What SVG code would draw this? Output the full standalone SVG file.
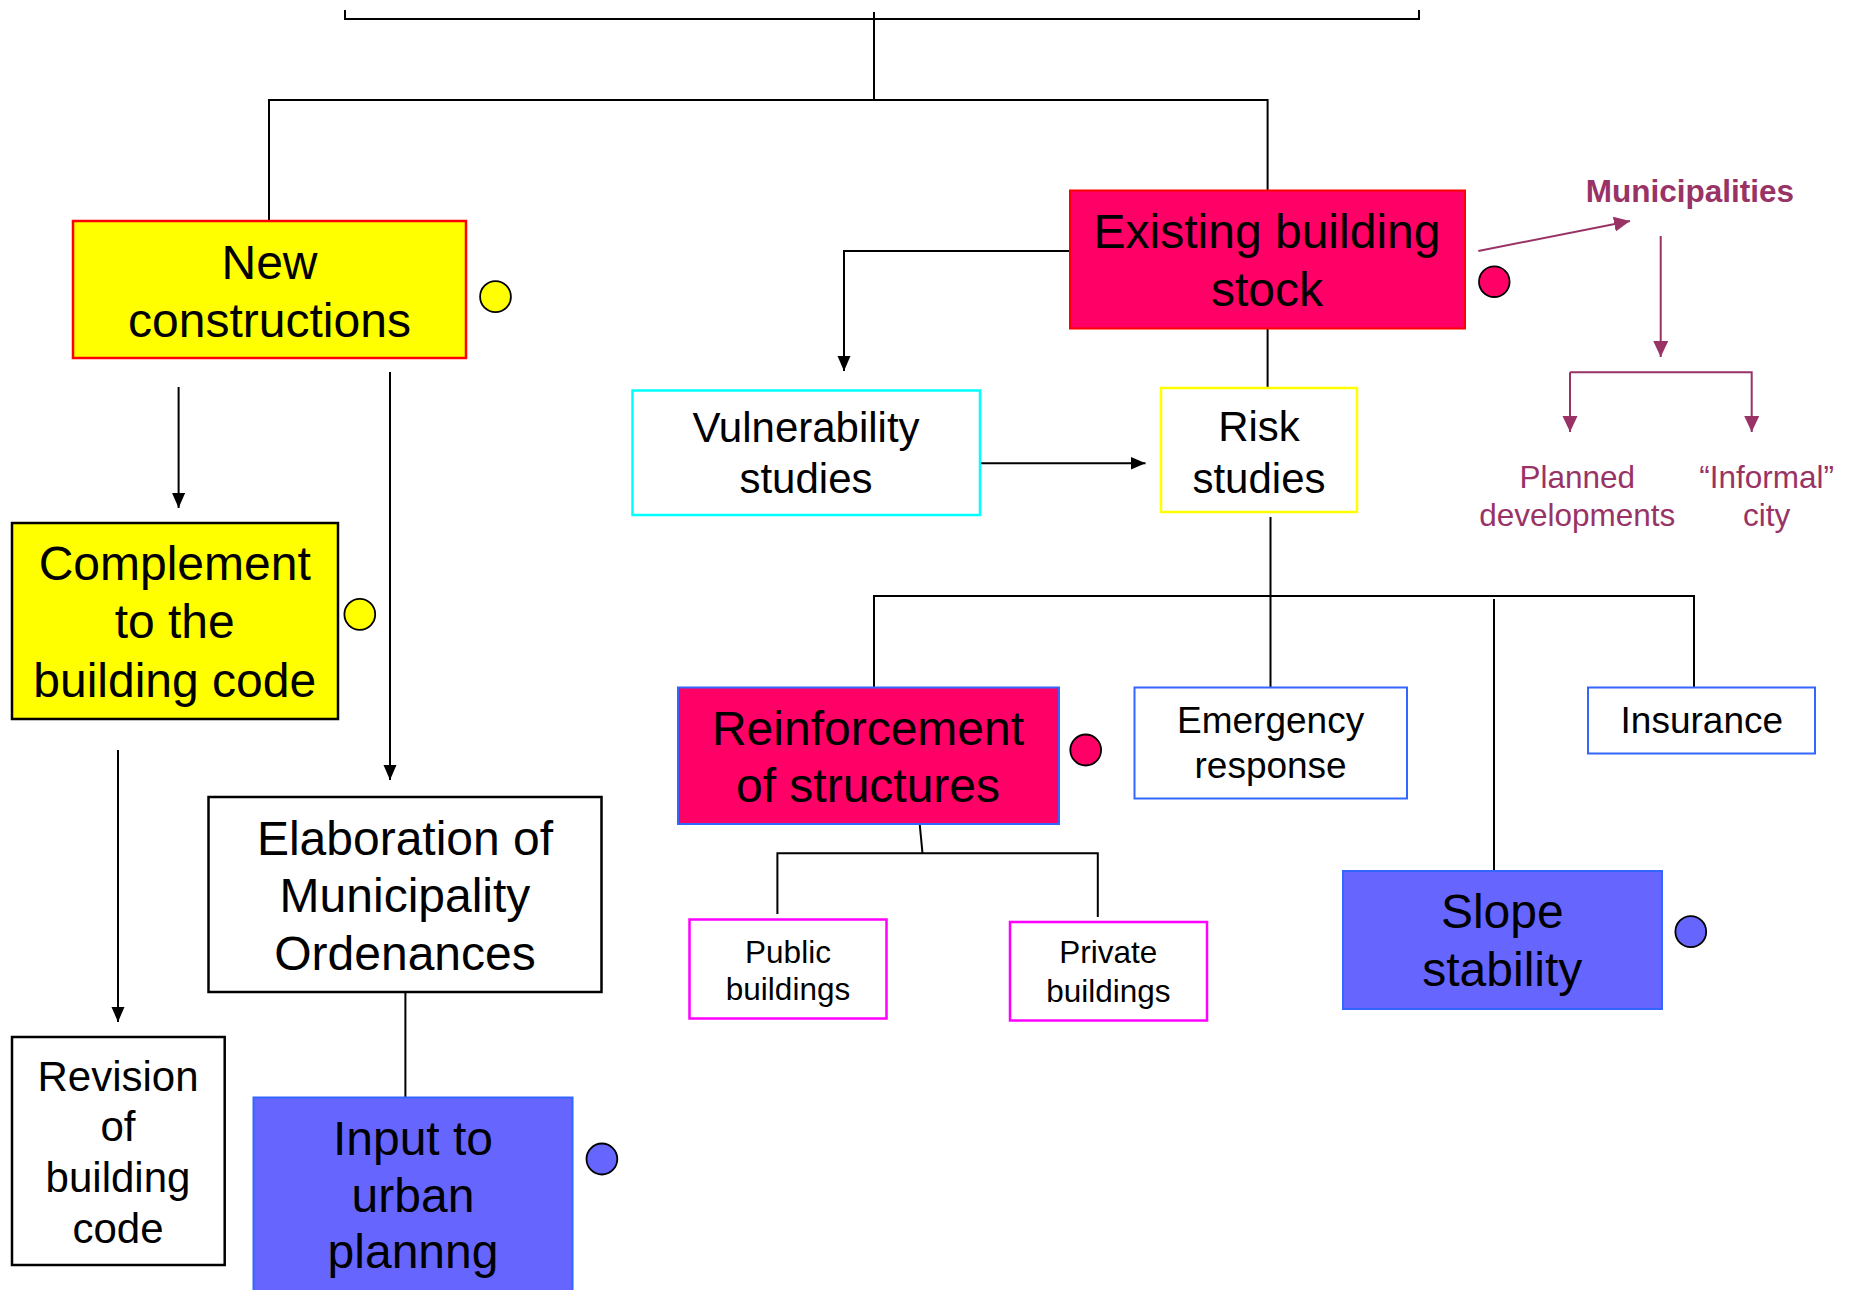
<svg xmlns="http://www.w3.org/2000/svg" width="1849" height="1290" viewBox="0 0 1849 1290">
<defs>
<style>
text{font-family:"Liberation Sans",Arial,sans-serif;fill:#000;text-anchor:middle}
.t48{font-size:48px}
.t42{font-size:42px}
.t37{font-size:37px}
.t32{font-size:31.5px}
.mun{fill:#993366}
.ln{stroke:#000;stroke-width:2;fill:none}
.pl{stroke:#993366;stroke-width:2;fill:none}
.dot{stroke:#000;stroke-width:1.8}
</style>
<marker id="ah" markerUnits="userSpaceOnUse" markerWidth="16" markerHeight="14" refX="15" refY="6.5" orient="auto"><path d="M0,0 L15,6.5 L0,13 z" fill="#000"/></marker>
<marker id="ahp" markerUnits="userSpaceOnUse" markerWidth="17" markerHeight="16" refX="16" refY="7.5" orient="auto"><path d="M0,0 L16,7.5 L0,15 z" fill="#993366"/></marker>
</defs>
<rect width="1849" height="1290" fill="#fff"/>

<g id="connectors">
<path class="ln" d="M345,10 V19 H1419 V10"/>
<path class="ln" d="M874,12 V100"/>
<path class="ln" d="M269,221 V100 H1267.6 V190"/>
<path class="ln" d="M178.6,387 V508" marker-end="url(#ah)"/>
<path class="ln" d="M390,372 V780" marker-end="url(#ah)"/>
<path class="ln" d="M118,750 V1022" marker-end="url(#ah)"/>
<path class="ln" d="M405.4,992 V1097"/>
<path class="ln" d="M1069.5,251 H844 V371" marker-end="url(#ah)"/>
<path class="ln" d="M1267.6,328 V390"/>
<path class="ln" d="M980,463.3 H1145.5" marker-end="url(#ah)"/>
<path class="ln" d="M1270.5,517 V688"/>
<path class="ln" d="M874,687 V596 H1694 V687"/>
<path class="ln" d="M1494,599 V871"/>
<path class="ln" d="M919.8,825 L922.5,853.3"/>
<path class="ln" d="M777.4,914 V853.3 H1097.8 V917"/>
<path class="pl" d="M1478.3,251 L1630,221" marker-end="url(#ahp)"/>
<path class="pl" d="M1660.7,236 V357" marker-end="url(#ahp)"/>
<path class="pl" d="M1570,372.3 H1751.7 V432" marker-end="url(#ahp)"/>
<path class="pl" d="M1570,372.3 V432" marker-end="url(#ahp)"/>
</g>

<g id="new-constructions">
<rect x="73" y="221" width="393" height="137" fill="#FFFF00" stroke="#FF0000" stroke-width="2.5"/>
<text class="t48" x="269.5" y="279.3">New</text>
<text class="t48" x="269.5" y="336.7">constructions</text>
<ellipse class="dot" cx="495.5" cy="296.7" rx="15.4" ry="15.5" fill="#FFFF00"/>
</g>

<g id="complement">
<rect x="12" y="523" width="326" height="196" fill="#FFFF00" stroke="#000" stroke-width="2.5"/>
<text class="t48" x="174.7" y="580">Complement</text>
<text class="t48" x="174.7" y="638.3">to the</text>
<text class="t48" x="174.7" y="696.7">building code</text>
<ellipse class="dot" cx="359.8" cy="614.3" rx="15.4" ry="15.5" fill="#FFFF00"/>
</g>

<g id="revision">
<rect x="12" y="1037" width="212.7" height="228" fill="#fff" stroke="#000" stroke-width="2.5"/>
<text class="t42" x="118" y="1090.7">Revision</text>
<text class="t42" x="118" y="1140.7">of</text>
<text class="t42" x="118" y="1191.7">building</text>
<text class="t42" x="118" y="1243.3">code</text>
</g>

<g id="elaboration">
<rect x="208.5" y="797" width="393" height="195" fill="#fff" stroke="#000" stroke-width="2.5"/>
<text class="t48" x="405" y="855">Elaboration of</text>
<text class="t48" x="405" y="912.3">Municipality</text>
<text class="t48" x="405" y="970">Ordenances</text>
</g>

<g id="input-urban">
<rect x="253.5" y="1097.5" width="319" height="210" fill="#6666FF" stroke="#3366FF" stroke-width="2"/>
<text class="t48" x="413" y="1155">Input to</text>
<text class="t48" x="413" y="1211.7">urban</text>
<text class="t48" x="413" y="1268.3">plannng</text>
<ellipse class="dot" cx="601.9" cy="1159" rx="15.4" ry="15.5" fill="#6666FF"/>
</g>

<g id="existing">
<rect x="1070" y="190.5" width="395" height="138" fill="#FF0066" stroke="#FF0000" stroke-width="2"/>
<text class="t48" x="1267" y="248.3">Existing building</text>
<text class="t48" x="1267" y="306">stock</text>
<circle class="dot" cx="1494.3" cy="281.7" r="15.3" fill="#FF0066"/>
</g>

<g id="vulnerability">
<rect x="632.5" y="390.5" width="347.5" height="124.5" fill="#fff" stroke="#00FFFF" stroke-width="2.5"/>
<text class="t42" x="806" y="441.5">Vulnerability</text>
<text class="t42" x="806" y="493.3">studies</text>
</g>

<g id="risk">
<rect x="1161" y="388" width="196" height="124" fill="#fff" stroke="#FFFF00" stroke-width="2.5"/>
<text class="t42" x="1259" y="441">Risk</text>
<text class="t42" x="1259" y="493">studies</text>
</g>

<g id="reinforcement">
<rect x="678" y="687.5" width="381" height="136.5" fill="#FF0066" stroke="#3366FF" stroke-width="2"/>
<text class="t48" x="868" y="745">Reinforcement</text>
<text class="t48" x="868" y="802.3">of structures</text>
<ellipse class="dot" cx="1085.7" cy="750" rx="15.4" ry="15.5" fill="#FF0066"/>
</g>

<g id="emergency">
<rect x="1134.5" y="687.5" width="272.5" height="111" fill="#fff" stroke="#3366FF" stroke-width="2"/>
<text class="t37" x="1270.6" y="732.7">Emergency</text>
<text class="t37" x="1270.6" y="778.3">response</text>
</g>

<g id="insurance">
<rect x="1588" y="687.5" width="227" height="66" fill="#fff" stroke="#3366FF" stroke-width="2"/>
<text class="t37" x="1701.8" y="733.3">Insurance</text>
</g>

<g id="slope">
<rect x="1343" y="871" width="319" height="138" fill="#6666FF" stroke="#3366FF" stroke-width="2"/>
<text class="t48" x="1502.3" y="928.3">Slope</text>
<text class="t48" x="1502.3" y="986">stability</text>
<ellipse class="dot" cx="1690.8" cy="931.7" rx="15.4" ry="15.5" fill="#6666FF"/>
</g>

<g id="public">
<rect x="689.5" y="919.5" width="197" height="99" fill="#fff" stroke="#FF00FF" stroke-width="2.5"/>
<text class="t32" x="788" y="962.7">Public</text>
<text class="t32" x="788" y="1000">buildings</text>
</g>

<g id="private">
<rect x="1010" y="922" width="197" height="98.5" fill="#fff" stroke="#FF00FF" stroke-width="2.5"/>
<text class="t32" x="1108.3" y="963.3">Private</text>
<text class="t32" x="1108.3" y="1001.7">buildings</text>
</g>

<g id="municipalities">
<text class="mun" x="1690" y="201.7" style="font-size:31.5px;font-weight:bold">Municipalities</text>
</g>

<g id="planned">
<text class="t32 mun" x="1577.3" y="488.3">Planned</text>
<text class="t32 mun" x="1577.3" y="526">developments</text>
</g>

<g id="informal">
<text class="t32 mun" x="1766.7" y="488.3">“Informal”</text>
<text class="t32 mun" x="1766.7" y="526">city</text>
</g>
</svg>
